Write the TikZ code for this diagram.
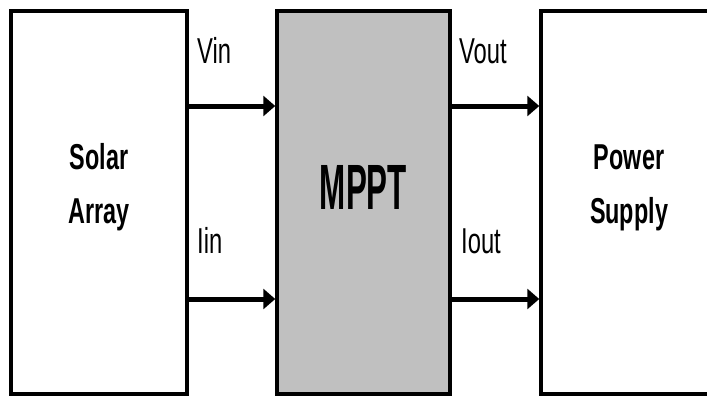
\documentclass[tikz,border=0pt]{standalone}
\usepackage{fontspec}
\setmainfont{Liberation Sans}
\usepackage{graphicx}
\usetikzlibrary{arrows.meta, positioning}

% narrow glyphs, as in the drawing
\newcommand{\squeeze}[2][0.66]{\scalebox{#1}[1]{#2}}

\begin{document}
\begin{tikzpicture}[
        x=1pt, y=1pt,
        % Styles
        stage/.style={draw=black, line width=3.5pt, fill=white, minimum height=383pt, inner sep=0pt},
        mppt_stage/.style={stage, fill=mpptgray},
        title/.style={font=\bfseries\fontsize{36}{54}\selectfont, align=center, inner sep=0pt},
        sig/.style={font=\fontsize{36}{43}\selectfont, inner sep=0pt, anchor=base west},
        flow/.style={-{Triangle[length=12pt, width=20pt]}, line width=5pt, draw=black}
    ]
    \definecolor{mpptgray}{RGB}{192,192,192}
    \clip (0,0) rectangle (707,400);

    % Blocks
    \node[stage, minimum width=176pt] (solar) at (99,197.5) {};
    \node[mppt_stage, minimum width=173pt] (mppt) at (363.5,197.5) {};
    \node[stage, minimum width=200pt] (supply) at (641,197.5) {};

    \node[title] (solar_txt) at ([yshift=15pt]solar.center) {\squeeze[0.65]{Solar}\\\squeeze[0.65]{Array}};
    \node[title, font=\bfseries\fontsize{64}{70}\selectfont] (mppt_txt) at ([yshift=15pt]mppt.center) {\squeeze[0.49]{MPPT}};
    \node[title] (supply_txt) at ([yshift=15pt, xshift=-12pt]supply.center) {\squeeze[0.65]{Power}\\\squeeze[0.65]{Supply}};

    % Signals
    \draw[flow] ([yshift=96.5pt]solar.east) -- ([yshift=96.5pt]mppt.west);
    \draw[flow] ([yshift=-96.5pt]solar.east) -- ([yshift=-96.5pt]mppt.west);
    \draw[flow] ([yshift=96.5pt]mppt.east) -- ([yshift=96.5pt]supply.west);
    \draw[flow] ([yshift=-96.5pt]mppt.east) -- ([yshift=-96.5pt]supply.west);

    \node[sig] (vin) at (197,337) {\squeeze{Vin}};
    \node[sig] (iin) at (197,147) {\squeeze{Iin}};
    \node[sig] (vout) at (459,337) {\squeeze{Vout}};
    \node[sig] (iout) at (461,147) {\squeeze{Iout}};

\end{tikzpicture}
\end{document}
